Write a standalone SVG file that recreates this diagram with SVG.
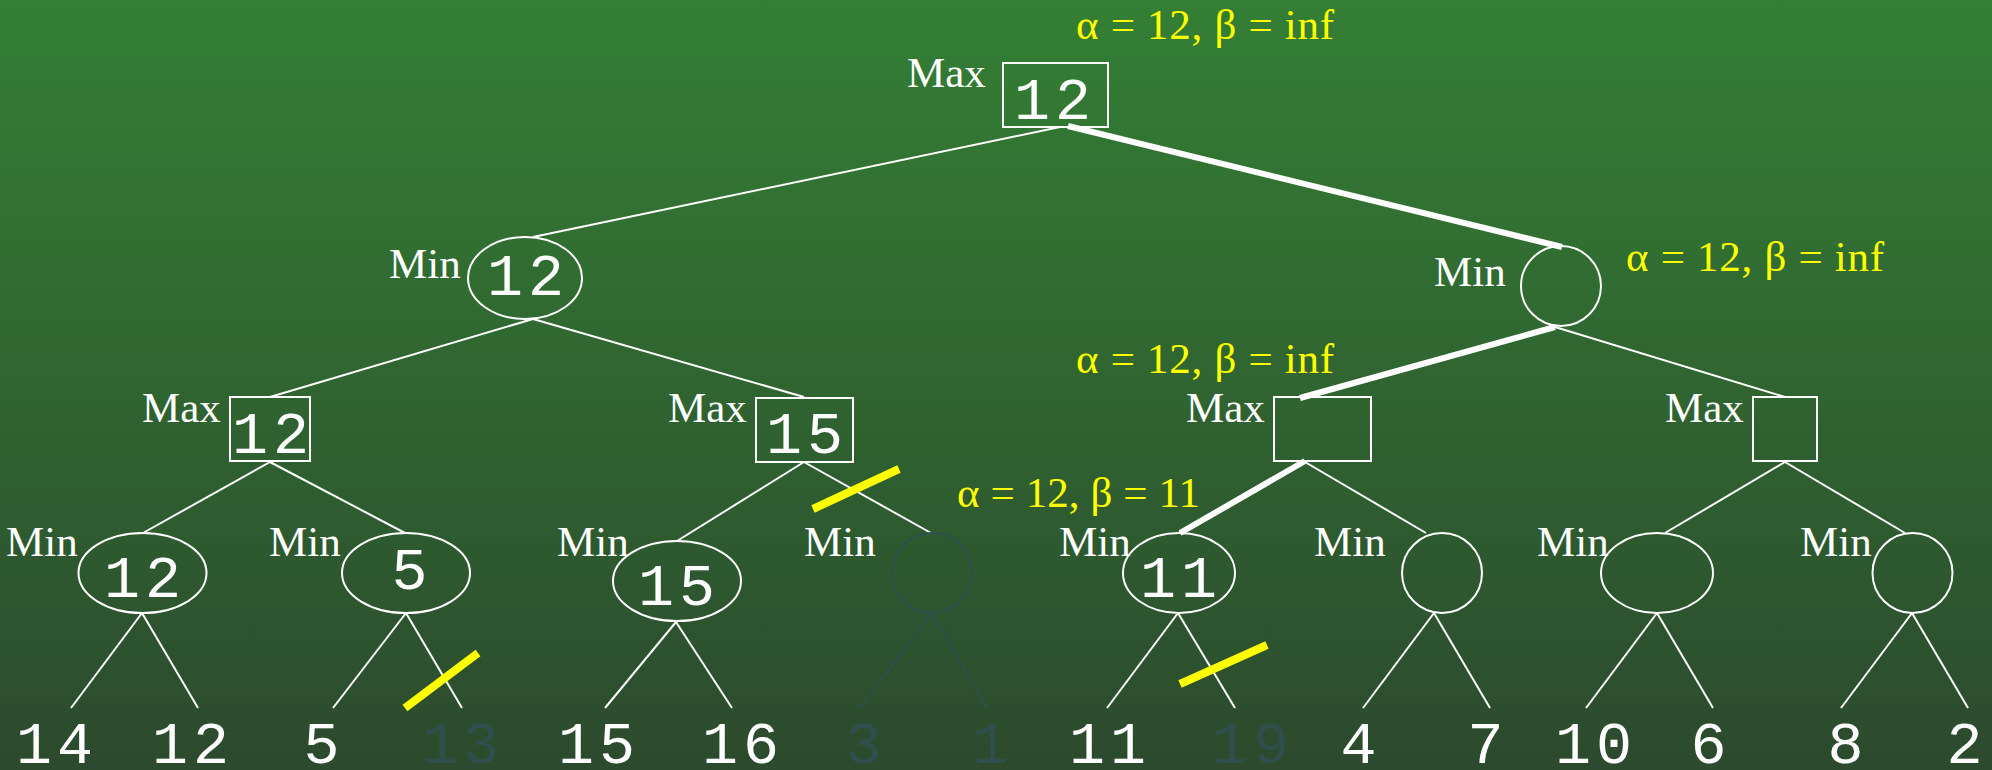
<svg xmlns="http://www.w3.org/2000/svg" width="1992" height="770" viewBox="0 0 1992 770">
<defs>
<linearGradient id="bg" x1="0" y1="0" x2="0" y2="1">
<stop offset="0" stop-color="#337f34"/>
<stop offset="1" stop-color="#2c4a2d"/>
</linearGradient>
<style>
.lbl{font-family:"Liberation Serif","Times New Roman",serif;font-size:43px;fill:#ffffff}
.ab{font-family:"Liberation Serif","Times New Roman",serif;font-size:43px;fill:#ffff00}
.num{font-family:"Liberation Mono","DejaVu Sans Mono",monospace;font-size:60px;fill:#ffffff;text-anchor:middle;letter-spacing:5px}
.dimt{fill:#2f4f4f}
.shape{fill:none;stroke:#ffffff;stroke-width:2}
.dims{fill:none;stroke:#2f4f4f;stroke-width:2}
.e{stroke:#ffffff;stroke-width:2;fill:none}
.ed{stroke:#2f4f4f;stroke-width:2;fill:none}
.thick{stroke:#ffffff;stroke-width:6;fill:none}
.cut{stroke:#ffff00;stroke-width:8;fill:none}
</style>
</defs>
<rect x="0" y="0" width="1992" height="770" fill="url(#bg)"/>

<g id="connectors">
<line class="e" x1="1060" y1="127" x2="533" y2="237"/>
<line class="thick" x1="1068" y1="126" x2="1562" y2="247"/>
<line class="e" x1="533" y1="319" x2="270" y2="397"/>
<line class="e" x1="533" y1="319" x2="804" y2="397"/>
<line class="thick" x1="1555" y1="327" x2="1300" y2="398"/>
<line class="e" x1="1555" y1="327" x2="1785" y2="397"/>
<line class="e" x1="270" y1="462" x2="143" y2="533"/>
<line class="e" x1="270" y1="462" x2="405" y2="533"/>
<line class="e" x1="804" y1="462" x2="677" y2="541"/>
<line class="e" x1="804" y1="462" x2="931" y2="533"/>
<line class="thick" x1="1305" y1="461" x2="1180" y2="533"/>
<line class="e" x1="1305" y1="462" x2="1426" y2="533"/>
<line class="e" x1="1785" y1="462" x2="1665" y2="533"/>
<line class="e" x1="1785" y1="462" x2="1905" y2="533"/>
<line class="e" x1="142" y1="613" x2="71" y2="708"/>
<line class="e" x1="142" y1="613" x2="198" y2="708"/>
<line class="e" x1="406" y1="613" x2="333" y2="708"/>
<line class="e" x1="406" y1="613" x2="462" y2="708"/>
<line class="e" x1="676" y1="622" x2="605" y2="708"/>
<line class="e" x1="676" y1="622" x2="732" y2="708"/>
<line class="ed" x1="932" y1="613" x2="860" y2="708"/>
<line class="ed" x1="932" y1="613" x2="987" y2="708"/>
<line class="e" x1="1178" y1="613" x2="1107" y2="708"/>
<line class="e" x1="1178" y1="613" x2="1235" y2="708"/>
<line class="e" x1="1434" y1="613" x2="1363" y2="708"/>
<line class="e" x1="1434" y1="613" x2="1490" y2="708"/>
<line class="e" x1="1657" y1="613" x2="1586" y2="708"/>
<line class="e" x1="1657" y1="613" x2="1713" y2="708"/>
<line class="e" x1="1912" y1="613" x2="1841" y2="708"/>
<line class="e" x1="1912" y1="613" x2="1968" y2="708"/>
<line class="cut" x1="405" y1="708" x2="478" y2="653"/>
<line class="cut" x1="813" y1="509" x2="899" y2="469"/>
<line class="cut" x1="1180" y1="684" x2="1267" y2="645"/>
</g>

<g id="root">
<rect class="shape" x="1003" y="63" width="105" height="64"/>
<text class="num" x="1055" y="119">12</text>
<text class="lbl" x="907" y="87">Max</text>
<text class="ab" x="1076" y="39" textLength="258" lengthAdjust="spacing">α = 12, β = inf</text>
</g>

<g id="min-l">
<ellipse class="shape" cx="525" cy="278" rx="57" ry="41"/>
<text class="num" x="528" y="295">12</text>
<text class="lbl" x="389" y="278">Min</text>
</g>

<g id="min-r">
<ellipse class="shape" cx="1561" cy="286" rx="40" ry="40"/>
<text class="lbl" x="1434" y="286">Min</text>
<text class="ab" x="1626" y="271" textLength="258" lengthAdjust="spacing">α = 12, β = inf</text>
</g>

<g id="max-a">
<rect class="shape" x="230" y="397" width="80" height="64"/>
<text class="num" x="273" y="453">12</text>
<text class="lbl" x="142" y="422">Max</text>
</g>

<g id="max-b">
<rect class="shape" x="756" y="398" width="97" height="64"/>
<text class="num" x="807" y="453">15</text>
<text class="lbl" x="668" y="422">Max</text>
</g>

<g id="max-c">
<rect class="shape" x="1274" y="397" width="97" height="64"/>
<text class="lbl" x="1186" y="422">Max</text>
<text class="ab" x="1076" y="373" textLength="258" lengthAdjust="spacing">α = 12, β = inf</text>
</g>

<g id="max-d">
<rect class="shape" x="1753" y="397" width="64" height="64"/>
<text class="lbl" x="1665" y="422">Max</text>
</g>

<g id="min-a">
<ellipse class="shape" cx="142.5" cy="573" rx="64" ry="40"/>
<text class="num" x="145" y="597">12</text>
<text class="lbl" x="6" y="556">Min</text>
</g>

<g id="min-b">
<ellipse class="shape" cx="406" cy="573" rx="64" ry="40"/>
<text class="num" x="412" y="589">5</text>
<text class="lbl" x="269" y="556">Min</text>
</g>

<g id="min-c">
<ellipse class="shape" cx="677" cy="581" rx="64" ry="40"/>
<text class="num" x="679" y="605">15</text>
<text class="lbl" x="557" y="556">Min</text>
</g>

<g id="min-d">
<circle class="dims" cx="932" cy="573" r="40"/>
<text class="lbl" x="804" y="556">Min</text>
</g>

<g id="min-e">
<ellipse class="shape" cx="1179" cy="573" rx="56" ry="40"/>
<text class="num" x="1181" y="597">11</text>
<text class="lbl" x="1059" y="556">Min</text>
<text class="ab" x="957" y="507" textLength="243" lengthAdjust="spacing">α = 12, β = 11</text>
</g>

<g id="min-f">
<circle class="shape" cx="1442" cy="573" r="40"/>
<text class="lbl" x="1314" y="556">Min</text>
</g>

<g id="min-g">
<ellipse class="shape" cx="1657" cy="573" rx="56" ry="40"/>
<text class="lbl" x="1537" y="556">Min</text>
</g>

<g id="min-h">
<circle class="shape" cx="1912.5" cy="573" r="40"/>
<text class="lbl" x="1800" y="556">Min</text>
</g>

<g id="leaves">
<text class="num" x="57" y="763">14</text>
<text class="num" x="193" y="763">12</text>
<text class="num" x="324" y="763">5</text>
<text class="num dimt" x="463" y="763">13</text>
<text class="num" x="599" y="763">15</text>
<text class="num" x="743" y="763">16</text>
<text class="num dimt" x="866" y="763">3</text>
<text class="num dimt" x="993" y="763">1</text>
<text class="num" x="1110" y="763">11</text>
<text class="num dimt" x="1253" y="763">19</text>
<text class="num" x="1361" y="763">4</text>
<text class="num" x="1488" y="763">7</text>
<text class="num" x="1596" y="763">10</text>
<text class="num" x="1711" y="763">6</text>
<text class="num" x="1848" y="763">8</text>
<text class="num" x="1967" y="763">2</text>
</g>
</svg>
